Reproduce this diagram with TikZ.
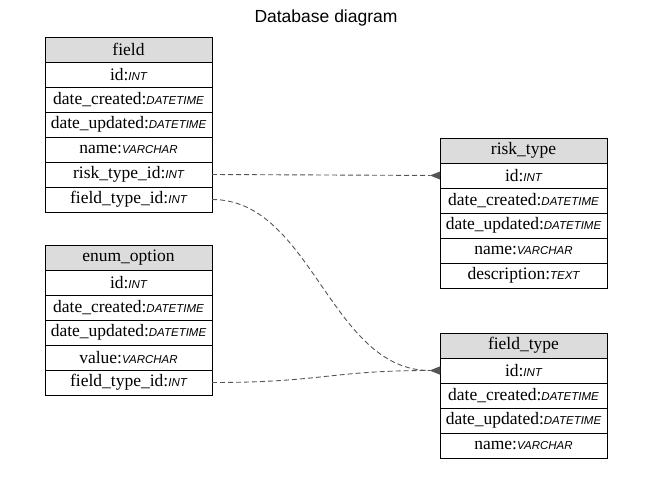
\documentclass[tikz,border=0pt]{standalone}
\usepackage{fontspec}
\setmainfont{Liberation Serif}
\setsansfont{Liberation Sans}
\usepackage{tikz}
\usetikzlibrary{arrows.meta, positioning}
\definecolor{hdrgray}{HTML}{DCDCDC}
\definecolor{edgegray}{HTML}{555555}
\newcommand{\ty}[1]{{\sffamily\itshape\fontsize{11.5}{12}\selectfont #1}}

\begin{document}
\begin{tikzpicture}[
    x=1pt, y=-1pt,
    node distance=0pt,
    trow/.style={draw, line width=0.8pt, minimum width=167pt, minimum height=25pt,
                 inner sep=1pt, outer sep=0pt, font=\fontsize{17.5}{18}\selectfont},
    thead/.style={trow, fill=hdrgray},
    fk/.style={draw=edgegray, line width=0.9pt, dash pattern=on 5pt off 3pt,
               -{Triangle[reversed, length=10pt, width=8pt, fill=edgegray, line width=0pt]}},
]
\useasboundingbox (0,0) rectangle (653,488);

\node[font=\sffamily\fontsize{17.5}{20}\selectfont] (title) at (326,18) {Database diagram};

% field
\node[thead] (field) at (128.5,49.5) {field};
\node[trow, below=of field] (field-id) {id:\ty{INT}};
\node[trow, below=of field-id] (field-dc) {date\_created:\ty{DATETIME}};
\node[trow, below=of field-dc] (field-du) {date\_updated:\ty{DATETIME}};
\node[trow, below=of field-du] (field-nm) {name:\ty{VARCHAR}};
\node[trow, below=of field-nm] (field-rt) {risk\_type\_id:\ty{INT}};
\node[trow, below=of field-rt] (field-ft) {field\_type\_id:\ty{INT}};

% enum_option
\node[thead] (enum) at (128.5,257.5) {enum\_option};
\node[trow, below=of enum] (enum-id) {id:\ty{INT}};
\node[trow, below=of enum-id] (enum-dc) {date\_created:\ty{DATETIME}};
\node[trow, below=of enum-dc] (enum-du) {date\_updated:\ty{DATETIME}};
\node[trow, below=of enum-du] (enum-vl) {value:\ty{VARCHAR}};
\node[trow, below=of enum-vl] (enum-ft) {field\_type\_id:\ty{INT}};

% risk_type
\node[thead] (risk) at (523.5,150.5) {risk\_type};
\node[trow, below=of risk] (risk-id) {id:\ty{INT}};
\node[trow, below=of risk-id] (risk-dc) {date\_created:\ty{DATETIME}};
\node[trow, below=of risk-dc] (risk-du) {date\_updated:\ty{DATETIME}};
\node[trow, below=of risk-du] (risk-nm) {name:\ty{VARCHAR}};
\node[trow, below=of risk-nm] (risk-ds) {description:\ty{TEXT}};

% field_type
\node[thead] (ftype) at (523.5,345.5) {field\_type};
\node[trow, below=of ftype] (ftype-id) {id:\ty{INT}};
\node[trow, below=of ftype-id] (ftype-dc) {date\_created:\ty{DATETIME}};
\node[trow, below=of ftype-dc] (ftype-du) {date\_updated:\ty{DATETIME}};
\node[trow, below=of ftype-du] (ftype-nm) {name:\ty{VARCHAR}};

% foreign keys
\draw[fk] (field-rt.east) -- (risk-id.west);
\draw[fk] (field-ft.east) .. controls +(100,0) and +(-110,0) .. (ftype-id.west);
\draw[fk] (enum-ft.east) .. controls +(110,0) and +(-110,0) .. (ftype-id.west);

\end{tikzpicture}
\end{document}
